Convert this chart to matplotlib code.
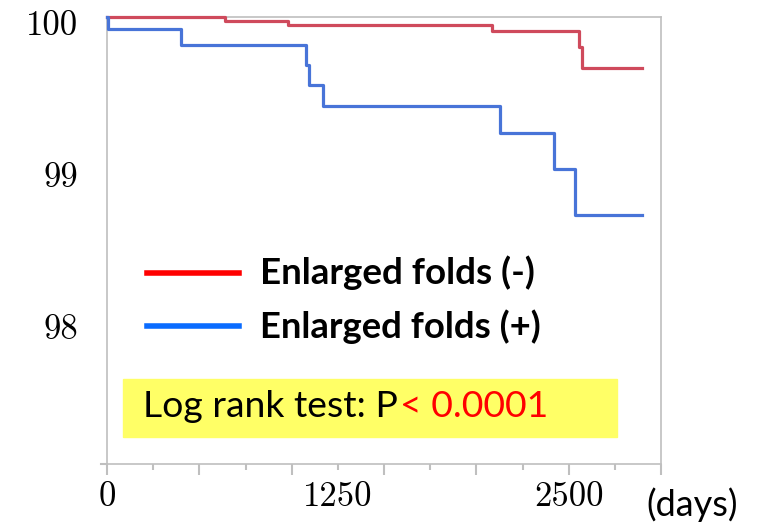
import matplotlib
matplotlib.use("Agg")
import matplotlib.pyplot as plt
from matplotlib.lines import Line2D
from matplotlib.transforms import ScaledTranslation

# -------------------------------
# Data
# -------------------------------
red_days = [0, 638, 981, 2083, 2554, 2574, 2895]
red_surv = [100.0, 99.976, 99.947, 99.908, 99.805, 99.666, 99.666]

blue_days = [0, 3, 400, 1077, 1095, 1171, 2130, 2420, 2535, 2895]
blue_surv = [100.0, 99.921, 99.816, 99.684, 99.553, 99.414, 99.235, 98.998, 98.695, 98.695]

x_ticks = list(range(0, 3001, 250))
x_labels = {0: "0", 1250: "1250", 2500: "2500"}
y_ticks = [100, 99, 98]

legend_labels = ["Enlarged folds (-)", "Enlarged folds (+)"]
pval_text = "Log rank test: P"
pval_value = "< 0.0001"

W, H = 764, 523
GRAY = "#bfbfbf"

fig = plt.figure(figsize=(W / 100, H / 100), dpi=100)
ax = fig.add_axes([107 / W, 1 - 464 / H, (661 - 107) / W, (464 - 17) / H])

ax.step(red_days, red_surv, where="post", color="#cf4a5c", lw=2.3, clip_on=False, zorder=3)
ax.step(blue_days, blue_surv, where="post", color="#4874d8", lw=2.3, clip_on=False, zorder=3)

ax.set_xlim(0, 3000)
ax.set_ylim(100 - 447 / 152, 100)

for s in ax.spines.values():
    s.set_color(GRAY)
    s.set_linewidth(1.2)
# small overhang of the x axis line to the left
ax.plot([-0.01, 0], [0, 0], transform=ax.transAxes, color=GRAY, lw=1.5, clip_on=False)

# x ticks: long every 500, short in between
ax.set_xticks(x_ticks)
ax.set_xticklabels([x_labels.get(t, "") for t in x_ticks], family="cmr10", fontsize=25)
ax.tick_params(axis="x", direction="out", color=GRAY, width=1.5, pad=9)
for t, tick in zip(x_ticks, ax.xaxis.get_major_ticks()):
    tick.tick1line.set_markersize(8 if t % 500 == 0 else 4.5)

ax.set_yticks(y_ticks)
ax.set_yticklabels([str(v) for v in y_ticks], family="cmr10", fontsize=25)
ax.tick_params(axis="y", length=0, pad=21)
off = ScaledTranslation(0, -4 / 72, fig.dpi_scale_trans)
for lab in ax.get_yticklabels():
    lab.set_transform(lab.get_transform() + off)


def px(x, y):
    return x / W, 1 - y / H


renderer = fig.canvas.get_renderer()


def fit_text(x, y, s, width, **kw):
    t = fig.text(*px(x, y), s, **kw)
    bb = t.get_window_extent(renderer)
    t.set_fontsize(t.get_fontsize() * width / bb.width)
    return t


# legend
fig.add_artist(Line2D([147 / W, 239 / W], [1 - 273 / H] * 2, color="#ff0000", lw=4))
fig.add_artist(Line2D([147 / W, 239 / W], [1 - 326 / H] * 2, color="#0a6cff", lw=4))
fit_text(260, 284.5, legend_labels[0], 276, family="Lato", weight="bold",
         fontsize=24, va="baseline")
fit_text(260, 337.5, legend_labels[1], 281, family="Lato", weight="bold",
         fontsize=24, va="baseline")

# log rank box
fig.add_artist(plt.Rectangle(px(123, 437), (617 - 123) / W, (437 - 379) / H,
                             transform=fig.transFigure, color="#ffff66", zorder=1))
t1 = fig.text(*px(143, 417), pval_text, family="Lato", fontsize=26, va="baseline")
bb1 = t1.get_window_extent(renderer)
t2 = fig.text(bb1.x1 / W, 1 - 417 / H, pval_value, family="Lato", fontsize=26,
              color="#ff0000", va="baseline")
bb2 = t2.get_window_extent(renderer)
scale = (546 - 143) / (bb2.x1 - bb1.x0)
for t in (t1, t2):
    t.set_fontsize(26 * scale)
bb1 = t1.get_window_extent(renderer)
t2.set_x(bb1.x1 / W + 2 / W)

fit_text(646, 516, "(days)", 92, family="Lato", fontsize=24, va="baseline")

fig.savefig("out.png", dpi=100)
